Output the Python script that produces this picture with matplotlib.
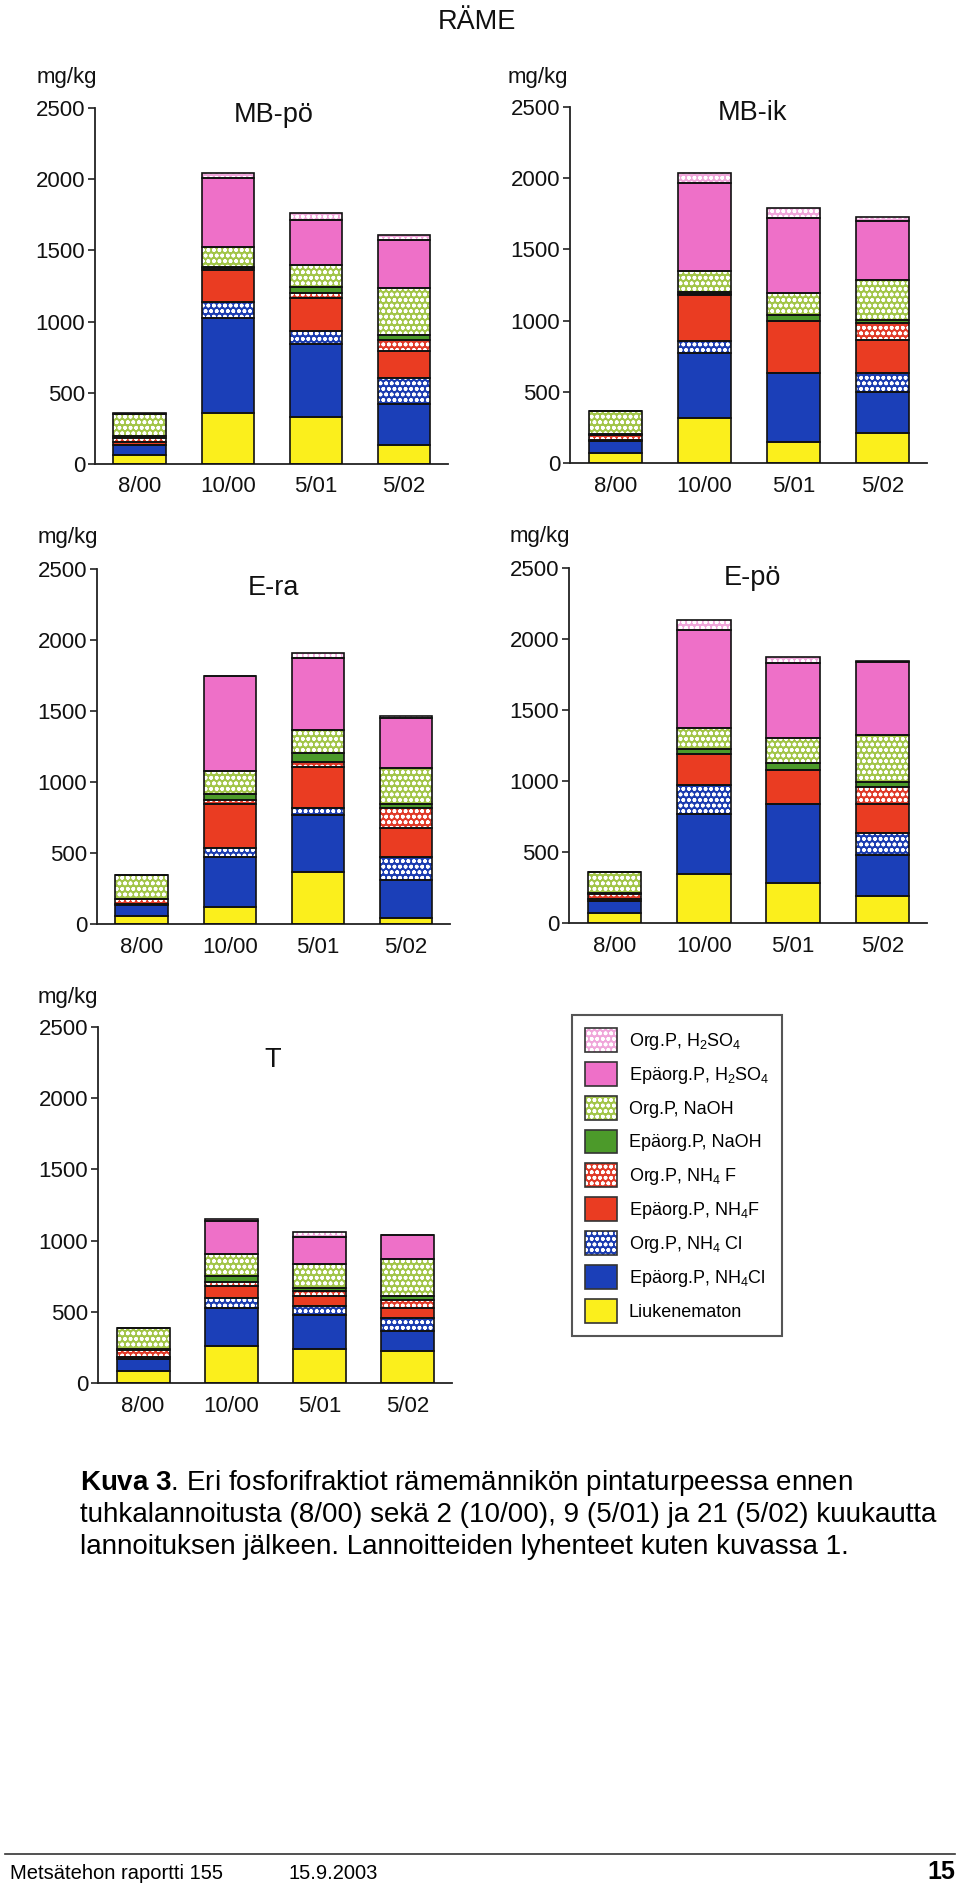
import matplotlib
matplotlib.use('Agg')
import matplotlib.pyplot as plt
import matplotlib.patches as mpatches
from matplotlib.legend_handler import HandlerTuple
import numpy as np

plt.rcParams['font.family'] = ['Liberation Sans', 'DejaVu Sans']
plt.rcParams['mathtext.fontset'] = 'custom'
plt.rcParams['mathtext.rm'] = 'Liberation Sans'
plt.rcParams['mathtext.bf'] = 'Liberation Sans:bold'
plt.rcParams['mathtext.it'] = 'Liberation Sans:italic'
plt.rcParams['mathtext.default'] = 'regular'
plt.rcParams['hatch.linewidth'] = 1.1

# dates on x axis
dates = ['8/00', '10/00', '5/01', '5/02']

# fractions, bottom -> top of each stack
fractions = ['Liukenematon',
             'Epäorg.P, NH$_4$Cl',
             'Org.P, NH$_4$ Cl',
             'Epäorg.P, NH$_4$F',
             'Org.P, NH$_4$ F',
             'Epäorg.P, NaOH',
             'Org.P, NaOH',
             'Epäorg.P, H$_2$SO$_4$',
             'Org.P, H$_2$SO$_4$']
colors = ['#fbef1c', '#1b3fb8', '#1b3cb0', '#ea3c22', '#e03a28',
          '#4c9a2a', '#a2c548', '#ee70c8', '#f0a6da']
patterned = [False, False, True, False, True, False, True, False, True]

# mg/kg, rows follow `fractions`, columns follow `dates`
mb_po = [[60, 356, 328, 134],
         [75, 668, 515, 285],
         [0, 117, 92, 188],
         [20, 223, 234, 187],
         [30, 10, 31, 78],
         [10, 12, 46, 35],
         [155, 140, 153, 328],
         [0, 480, 316, 340],
         [5, 35, 47, 35]]

mb_ik = [[70, 315, 145, 210],
         [82, 456, 490, 292],
         [0, 89, 0, 129],
         [12, 320, 362, 233],
         [35, 5, 0, 117],
         [5, 18, 43, 23],
         [163, 147, 151, 281],
         [0, 617, 526, 415],
         [0, 72, 77, 29]]

e_ra = [[56, 122, 369, 40],
        [78, 353, 399, 270],
        [0, 58, 47, 165],
        [10, 313, 294, 199],
        [30, 24, 31, 141],
        [5, 46, 63, 31],
        [166, 158, 160, 251],
        [0, 670, 510, 353],
        [0, 0, 35, 16]]

e_po = [[70, 347, 282, 188],
        [83, 418, 558, 288],
        [0, 204, 0, 158],
        [14, 223, 235, 202],
        [40, 0, 0, 122],
        [5, 35, 54, 35],
        [147, 148, 176, 333],
        [0, 686, 526, 512],
        [0, 70, 42, 5]]

t_site = [[87, 262, 239, 222],
          [82, 265, 241, 141],
          [0, 70, 58, 93],
          [12, 82, 71, 71],
          [48, 28, 35, 58],
          [10, 47, 23, 24],
          [147, 154, 171, 262],
          [0, 227, 185, 166],
          [0, 17, 37, 5]]

W, H = 960, 1889
fig = plt.figure(figsize=(W / 100, H / 100), dpi=100)
HATCH = 'ooo'


def fx(px):
    return px / W


def fy(py):
    return 1 - py / H


def panel(data, name, left, right, top, bottom, title_xy, unit_xy):
    ax = fig.add_axes([fx(left), fy(bottom), (right - left) / W, (bottom - top) / H])
    x = np.arange(len(dates))
    base = np.zeros(len(dates))
    for vals, c, pat in zip(data, colors, patterned):
        vals = np.array(vals, dtype=float)
        ax.bar(x, vals, 0.6, bottom=base, color=c, edgecolor='white' if pat else c,
               hatch=HATCH if pat else None, linewidth=0, zorder=2)
        ax.bar(x, vals, 0.6, bottom=base, fill=False, edgecolor='#111111',
               linewidth=1.2, zorder=3)
        base += vals
    ax.set_xlim(-0.51, 3.5)
    ax.set_ylim(0, 2500)
    ax.set_yticks([0, 500, 1000, 1500, 2000, 2500])
    ax.set_xticks(x)
    ax.set_xticklabels(dates)
    for s in ['top', 'right']:
        ax.spines[s].set_visible(False)
    for s in ['left', 'bottom']:
        ax.spines[s].set_color('#222222')
        ax.spines[s].set_linewidth(1.3)
    ax.tick_params(axis='y', direction='out', length=5, width=1.2, labelsize=16, pad=2,
                   colors='#222222')
    ax.tick_params(axis='x', length=0, labelsize=16, pad=9, colors='#222222')
    for lab in ax.get_yticklabels() + ax.get_xticklabels():
        lab.set_color('#111111')
    fig.text(fx(title_xy[0]), fy(title_xy[1]), name, fontsize=19.5, ha='center', va='center',
             color='#111111')
    fig.text(fx(unit_xy[0]), fy(unit_xy[1]), 'mg/kg', fontsize=16, ha='center', va='center',
             color='#111111')
    return ax


panel(mb_po, 'MB-pö', 95, 448, 108, 464, (274, 115), (67, 78))
panel(mb_ik, 'MB-ik', 570, 927, 107, 463, (753, 113), (538, 78))
panel(e_ra, 'E-ra', 97, 450, 569, 924, (273, 588), (68, 538))
panel(e_po, 'E-pö', 569, 927, 568, 923, (752, 578), (540, 537))
panel(t_site, 'T', 98, 452, 1027, 1383, (273, 1060), (68, 998))

fig.text(fx(477), fy(22), 'RÄME', fontsize=19.5, ha='center', va='center', color='#111111')

# legend, top entry first
handles = []
for c, pat in zip(colors, patterned):
    p_fill = mpatches.Patch(facecolor=c, edgecolor='white' if pat else c,
                            hatch=HATCH if pat else None, linewidth=0)
    p_edge = mpatches.Patch(fill=False, edgecolor='#333333', linewidth=1.2)
    handles.append((p_fill, p_edge))
leg = fig.legend(handles[::-1], fractions[::-1], loc='upper left',
                 bbox_to_anchor=(fx(572), fy(1015)), borderaxespad=0,
                 handler_map={tuple: HandlerTuple(ndivide=1, pad=0)},
                 fontsize=13, handlelength=1.78, handleheight=1.66,
                 labelspacing=0.55, handletextpad=0.65, borderpad=0.72,
                 fancybox=False, framealpha=1)
leg.get_frame().set_edgecolor('#555555')
leg.get_frame().set_linewidth(1.5)

# caption
cap = [r'$\mathbf{Kuva\ 3}$. Eri fosforifraktiot rämemännikön pintaturpeessa ennen',
       'tuhkalannoitusta (8/00) sekä 2 (10/00), 9 (5/01) ja 21 (5/02) kuukautta',
       'lannoituksen jälkeen. Lannoitteiden lyhenteet kuten kuvassa 1.']
for i, line in enumerate(cap):
    fig.text(fx(80), fy(1490 + 32 * i), line, fontsize=20, ha='left', va='baseline',
             color='black')

# footer
fig.add_artist(plt.Line2D([fx(5), fx(955)], [fy(1854), fy(1854)], color='#333333',
                          linewidth=1.2))
fig.text(fx(10), fy(1879), 'Metsätehon raportti 155', fontsize=14.5, va='baseline')
fig.text(fx(289), fy(1879), '15.9.2003', fontsize=14.5, va='baseline')
fig.text(fx(955), fy(1879), '15', fontsize=18, fontweight='bold', ha='right', va='baseline')

fig.savefig('out.png', dpi=100)
